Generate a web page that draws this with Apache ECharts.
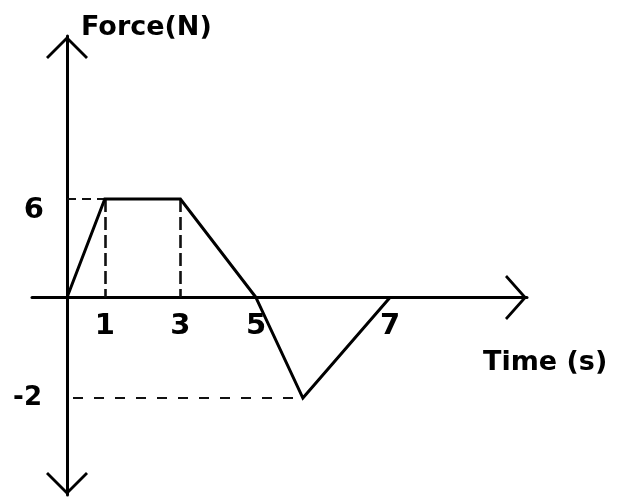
<!DOCTYPE html>
<html>
<head>
<meta charset="utf-8">
<script src="https://cdn.jsdelivr.net/npm/echarts@6/dist/echarts.min.js"></script>
<style>html,body{margin:0;padding:0;background:#fff}#c{width:640px;height:497px}</style>
</head>
<body>
<div id="c"></div>
<script>
// ---- data ----
const time = [0, 1, 3, 5, 5.7, 7];
const force = [0, 6, 6, 0, -2, 0];
const xTickValues = [1, 3, 5, 7];
const yTickValues = [6, -2];
const xName = 'Time (s)';
const yName = 'Force(N)';

// The sketch is not drawn to one scale: the positive lobe and the negative lobe
// use their own (linear) axes, both sharing the same zero lines.
const split = force.findIndex((f, i) => i > 0 && f === 0 && force[i + 1] < 0);
const posPart = time.slice(0, split + 1).map((t, i) => [t, force[i]]);
const negPart = time.slice(split).map((t, i) => [t, force[split + i]]);
const splitTime = time[split];
const fMax = Math.max(...force);
const fMin = Math.min(...force);
const peakTimes = time.filter((t, i) => force[i] === fMax);
const troughTime = time[force.indexOf(fMin)];

const FONT = 'DejaVu Sans';
const INK = '#000';
const chevX = 'path://M22.5,0L45,20L43,22L22.5,3.8L2,22L0,20Z';
const chevY = 'path://M21,0L42,21L40,23L21,4L2,23L0,21Z';
const labelStyle = { color: INK, fontSize: 29, fontWeight: 'bold', fontFamily: FONT };
const guide = { color: '#111', width: 2.6, type: [13, 5] };
// grid: left 32, top 36, 495 x 459; axes pulled inward onto the zero lines
const X_OFF = -197.5, Y_OFF = -35;

const chart = echarts.init(document.getElementById('c'), null, { renderer: 'canvas' });
const option = {
  animation: false,
  backgroundColor: '#fff',
  grid: { left: 32, top: 36, width: 495, height: 459, containLabel: false, outerBoundsMode: 'none' },
  xAxis: [
    {
      type: 'value', position: 'bottom', offset: X_OFF, min: -0.926, max: 12.169,
      splitLine: { show: false }, axisTick: { show: false },
      axisLine: {
        show: true, onZero: false,
        symbol: ['none', chevX], symbolSize: [45, 22], symbolOffset: [0, -11],
        lineStyle: { color: INK, width: 3 }
      },
      axisLabel: Object.assign({ customValues: xTickValues.filter(v => v <= splitTime), margin: 14 }, labelStyle),
      name: xName, nameLocation: 'end', nameGap: -44,
      nameTextStyle: { color: INK, fontSize: 27, fontWeight: 'bold', fontFamily: FONT, align: 'left', verticalAlign: 'top', padding: [52, 0, 0, 0] }
    },
    {
      type: 'value', position: 'bottom', offset: X_OFF, min: 1.657, max: 9.045,
      splitLine: { show: false }, axisTick: { show: false },
      axisLine: { show: false, onZero: false },
      axisLabel: Object.assign({ customValues: xTickValues.filter(v => v > splitTime), margin: 14 }, labelStyle)
    }
  ],
  yAxis: [
    {
      type: 'value', position: 'left', offset: Y_OFF, min: -12.030, max: 15.929,
      splitLine: { show: false }, axisTick: { show: false },
      axisLine: {
        show: true, onZero: false,
        symbol: [chevY, chevY], symbolSize: [42, 23], symbolOffset: [11.5, -11.5],
        lineStyle: { color: INK, width: 3 }
      },
      axisLabel: Object.assign({
        customValues: yTickValues.filter(v => v > 0), margin: 23,
        formatter: v => '{s|' + v + '}',
        rich: { s: { color: INK, fontSize: 29, fontWeight: 'bold', fontFamily: FONT, padding: [23, 0, 0, 0] } }
      }, labelStyle),
      name: yName, nameLocation: 'end', nameGap: -5,
      nameTextStyle: { color: INK, fontSize: 27, fontWeight: 'bold', fontFamily: FONT, align: 'left', verticalAlign: 'bottom', padding: [0, 0, 0, 14] }
    },
    {
      type: 'value', position: 'left', offset: Y_OFF, min: -3.930, max: 5.204,
      splitLine: { show: false }, axisTick: { show: false },
      axisLine: { show: false, onZero: false },
      axisLabel: Object.assign({}, labelStyle, { customValues: yTickValues.filter(v => v < 0), margin: 25, fontSize: 26 })
    }
  ],
  series: [
    {
      type: 'line', xAxisIndex: 0, yAxisIndex: 0, data: posPart,
      symbol: 'none', lineStyle: { color: INK, width: 3, join: 'miter' }, z: 5,
      markLine: {
        silent: true, symbol: ['none', 'none'], label: { show: false },
        lineStyle: guide,
        data: peakTimes.map(t => [{ coord: [t, fMax] }, { coord: [t, 0] }]).concat([
          [{ coord: [0, fMax], lineStyle: { color: '#111', width: 2, type: [9, 6] } },
           { coord: [peakTimes[0], fMax] }]
        ])
      }
    },
    {
      type: 'line', xAxisIndex: 1, yAxisIndex: 1, data: negPart,
      symbol: 'none', lineStyle: { color: INK, width: 3, join: 'miter' }, z: 5
    }
  ]
};
chart.setOption(option);

// horizontal guide at the trough, from the force axis to the trough point
const pA = chart.convertToPixel({ xAxisIndex: 0, yAxisIndex: 1 }, [0, fMin]);
const pB = chart.convertToPixel({ xAxisIndex: 1, yAxisIndex: 1 }, [troughTime, fMin]);
chart.setOption({
  graphic: [{
    type: 'line', silent: true, z: 3,
    shape: { x1: pA[0] + 6, y1: pA[1], x2: pB[0], y2: pB[1] },
    style: { stroke: '#111', lineWidth: 2, lineDash: [10, 11] }
  }]
});
</script>
</body>
</html>
